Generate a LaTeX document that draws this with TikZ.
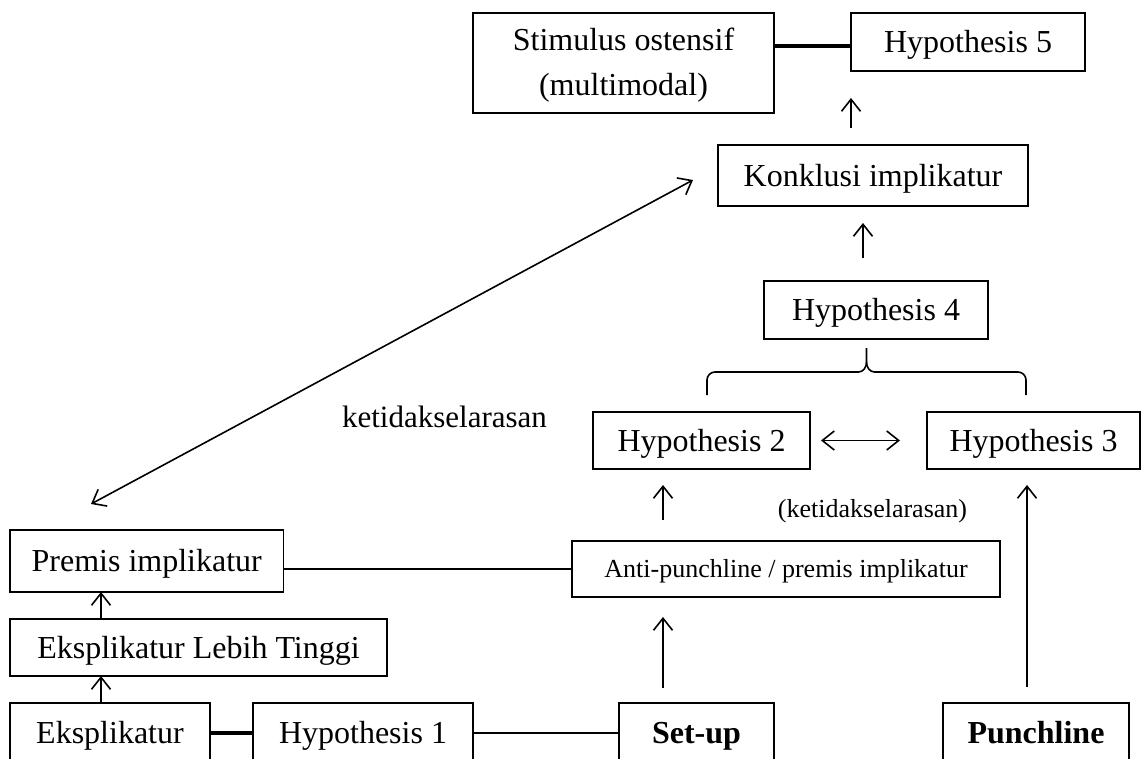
\documentclass[tikz,border=0pt]{standalone}
\usepackage{fontspec}
\setmainfont{Liberation Serif}
\usetikzlibrary{positioning}
\usetikzlibrary{arrows.meta}
\usetikzlibrary{calc}

\tikzset{
  frame/.style={draw, line width=1.6pt, inner sep=0pt, outer sep=0pt},
  big/.style={font=\fontsize{32}{38}\selectfont},
  box/.style={frame, big, text height=21pt, text depth=0pt},
  smallbox/.style={frame, font=\fontsize{26}{31}\selectfont, text height=17pt, text depth=0pt},
  boldbox/.style={box, font=\fontsize{32}{38}\selectfont\bfseries},
  link/.style={line width=1.6pt},
  thicklink/.style={line width=3.2pt},
  arr/.style={line width=1.6pt, -{Straight Barb[length=12pt,width=19pt]}},
  dbl/.style={line width=1.6pt, {Straight Barb[length=12pt,width=19pt]}-{Straight Barb[length=12pt,width=19pt]}},
}

\begin{document}
\begin{tikzpicture}[x=1pt,y=-1pt]
          \useasboundingbox (0,0) rectangle (1145,758);
          \fill[white] (0,0) rectangle (1145,758);
          \clip (0,0) rectangle (1145,758);
          \node[frame, font=\fontsize{32}{45}\selectfont, align=center, minimum width=301pt, minimum height=100pt] (stim) at (623.5,63) {\rule{0pt}{26pt}Stimulus ostensif\\(multimodal)};
          \node[box, minimum width=234pt, minimum height=58pt] (h5) at (968,42) {Hypothesis 5};
          \node[box, minimum width=310pt, minimum height=61pt] (konk) at (873,175.5) {Konklusi implikatur};
          \node[box, minimum width=224pt, minimum height=58pt] (h4) at (876,310) {Hypothesis 4};
          \node[box, minimum width=217pt, minimum height=57pt] (h2) at (701.5,440.5) {Hypothesis 2};
          \node[box, minimum width=213pt, minimum height=57pt, right=117pt of h2] (h3) {Hypothesis 3};
          \node[smallbox, minimum width=428pt, minimum height=56pt] (anti) at (786,569) {Anti-punchline / premis implikatur};
          \node[box, minimum width=200pt, minimum height=60pt] (eks) at (110,733) {Eksplikatur};
          \node[box, minimum width=377pt, minimum height=57pt, above=27pt of eks.north west, anchor=south west] (elt) {Eksplikatur Lebih Tinggi};
          \node[box, minimum width=273.5pt, minimum height=62pt, above=27pt of elt.north west, anchor=south west] (premis) {Premis implikatur};
          \node[box, minimum width=220pt, minimum height=60pt, right=43pt of eks] (h1) {Hypothesis 1};
          \node[boldbox, minimum width=155pt, minimum height=60pt, right=146pt of h1] (setup) {Set-up};
          \node[boldbox, minimum width=186pt, minimum height=60pt, right=169pt of setup] (punch) {Punchline};
          \node[font=\fontsize{31}{37}\selectfont, anchor=base] (lbl) at (444.5,427) {ketidakselarasan};
          \node[font=\fontsize{26}{31}\selectfont, anchor=base] (lblsmall) at (872.5,517) {(ketidakselarasan)};
          \coordinate (xa) at (663,0);
          \coordinate (xb) at (1027,0);
          \coordinate (xc) at (101,0);
          \coordinate (dl) at (91,504);
          \coordinate (du) at (693,180);
          \coordinate (bl) at ([shift={(5.5pt,17pt)}]h2.north);
          \coordinate (br) at ([shift={(-7.5pt,17pt)}]h3.north);
          \coordinate (bt) at ($(bl)!0.5!(br)+(0,-47)$);
          \draw[thicklink] ([yshift=-4pt]h5.west) -- ([yshift=-4pt]h5.west -| stim.east);
          \draw[arr, shorten <=17pt, shorten >=27pt] (konk.north -| h5.south west) -- (h5.south west);
          \draw[arr, shorten <=23pt, shorten >=17pt] ([xshift=-13pt]h4.north) -- ([xshift=-10pt]konk.south);
          \draw[link] (bl) -- ++(0,-15) to[out=90,in=180] ++(8,-8) -- ($(bt)+(-8,24)$) to[out=0,in=-90] ++(8,-10) -- (bt);
          \draw[link] (br) -- ++(0,-15) to[out=90,in=0] ++(-8,-8) -- ($(bt)+(8,24)$) to[out=180,in=-90] ++(-8,-10);
          \draw[dbl, shorten <=11pt, shorten >=27pt] (h2.east) -- (h3.west);
          \draw[arr, shorten <=21pt, shorten >=16pt] (anti.north -| xa) -- (h2.south -| xa);
          \draw[arr, shorten <=15pt, shorten >=20pt] (setup.north -| xa) -- (anti.south -| xa);
          \draw[arr, shorten <=16pt, shorten >=16pt] (punch.north -| xb) -- (h3.south -| xb);
          \draw[arr] (elt.north -| xc) -- (premis.south -| xc);
          \draw[arr] (eks.north -| xc) -- (elt.south -| xc);
          \draw[link] (anti.west) -- (anti.west -| premis.east);
          \draw[thicklink] (eks.east) -- (h1.west);
          \draw[link] (h1.east) -- (setup.west);
          \draw[dbl] (dl) -- (du);
        \end{tikzpicture}
\end{document}
